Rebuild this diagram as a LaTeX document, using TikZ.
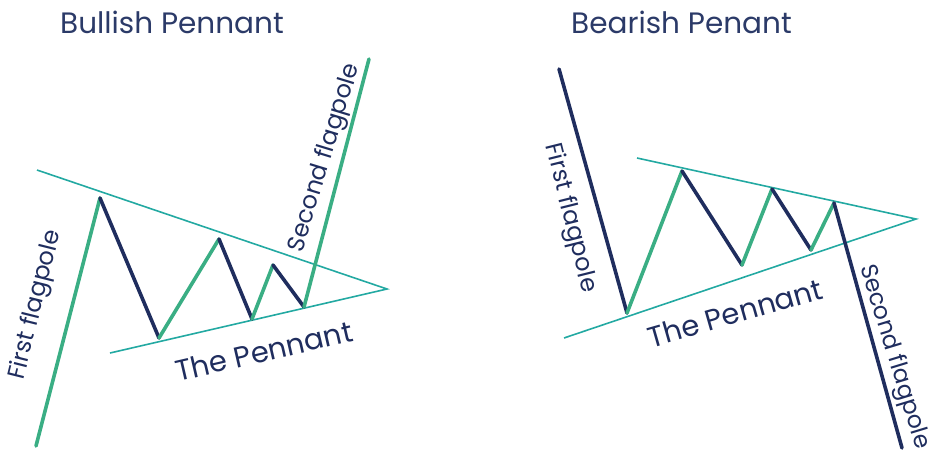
\documentclass[tikz,border=0pt]{standalone}
\usepackage{fontspec}
\setmainfont{Poppins}
\definecolor{navy}{HTML}{1F2D5E}
\definecolor{titlenavy}{HTML}{2B3A68}
\definecolor{grn}{HTML}{3AAE84}
\definecolor{teal}{HTML}{23A9A2}
\begin{document}
\begin{tikzpicture}[x=1pt,y=-1pt,
  up/.style={draw=grn,line width=3.6pt,line cap=round,line join=round},
  down/.style={draw=navy,line width=3.6pt,line cap=round,line join=round},
  trend/.style={draw=teal,line width=1.6pt},
  ttl/.style={text=titlenavy,font=\fontsize{29.5}{33}\selectfont,anchor=base west,inner sep=0pt},
  lbl/.style={text=navy,font=\fontsize{24}{28}\selectfont,inner sep=0pt},
  plbl/.style={text=navy,font=\fontsize{29}{33}\selectfont,inner sep=0pt}]
\useasboundingbox (0,0) rectangle (928,459);
% ---- Bullish ----
\node[ttl] (t1) at (60,33) {Bullish Pennant};
\coordinate (a0) at (36,446);
\coordinate (a1) at (100,198);
\coordinate (a2) at (159,338);
\coordinate (a3) at (219,239);
\coordinate (a4) at (252,319);
\coordinate (a5) at (273,265);
\coordinate (a6) at (304,307);
\coordinate (a7) at (369,59);
\coordinate (ua) at (37,170);
\coordinate (la) at (110,353);
\coordinate (apa) at (387,289);
\draw[trend] (ua) -- (apa) -- (la);
\draw[up] (a0) -- (a1);
\draw[down] (a1) -- (a2);
\draw[up] (a2) -- (a3);
\draw[down] (a3) -- (a4);
\draw[up] (a4) -- (a5);
\draw[down] (a5) -- (a6);
\draw[up] (a6) -- (a7);
\node[lbl,rotate=76] (f1) at (36,305) {First flagpole};
\node[lbl,rotate=73] (s1) at (325,158) {Second flagpole};
\node[plbl,rotate=13] (p1) at (264,351) {The Pennant};
% ---- Bearish ----
\node[ttl] (t2) at (571,33) {Bearish Penant};
\coordinate (b0) at (559,69);
\coordinate (b1) at (627,313);
\coordinate (b2) at (682,171);
\coordinate (b3) at (742,265);
\coordinate (b4) at (772,189);
\coordinate (b5) at (811,250);
\coordinate (b6) at (834,203);
\coordinate (b7) at (902,448);
\coordinate (ub) at (637,158);
\coordinate (lb) at (564,338);
\coordinate (apb) at (916,219);
\draw[trend] (ub) -- (apb) -- (lb);
\draw[down] (b0) -- (b1);
\draw[up] (b1) -- (b2);
\draw[down] (b2) -- (b3);
\draw[up] (b3) -- (b4);
\draw[down] (b4) -- (b5);
\draw[up] (b5) -- (b6);
\draw[down] (b6) -- (b7);
\node[lbl,rotate=-76] (f2) at (570,218) {First flagpole};
\node[lbl,rotate=-73,font=\fontsize{23.5}{27}\selectfont] (s2) at (894,357) {Second flagpole};
\node[plbl,rotate=16] (p2) at (735,313) {The Pennant};
\end{tikzpicture}
\end{document}
